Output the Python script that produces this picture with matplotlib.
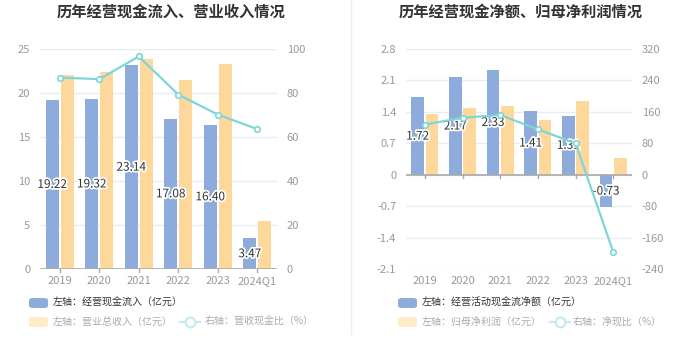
import matplotlib
matplotlib.use("Agg")
import matplotlib.pyplot as plt
import matplotlib.patheffects as pe
from matplotlib.patches import FancyBboxPatch
from matplotlib.lines import Line2D
import numpy as np

plt.rcParams['font.family'] = ['Noto Sans CJK SC', 'DejaVu Sans']

categories = ['2019', '2020', '2021', '2022', '2023', '2024Q1']

# Left chart
cash_inflow = [19.22, 19.32, 23.14, 17.08, 16.40, 3.47]
revenue = [22.0, 22.35, 23.9, 21.5, 23.3, 5.42]
cash_ratio = [87.0, 86.3, 96.6, 79.3, 70.2, 63.6]

# Right chart
net_cash = [1.72, 2.17, 2.33, 1.41, 1.31, -0.73]
net_profit = [1.345, 1.49, 1.53, 1.225, 1.64, 0.375]
net_ratio = [127.5, 145.0, 152.0, 115.5, 80.0, -196.0]

W, H = 700, 359
BLUE = '#8dacdb'
YELLOW = '#fed89b'
CYAN = '#7fd5d8'
GRID = '#e8ebf2'
TICK = '#999999'

fig = plt.figure(figsize=(W / 100, H / 100), dpi=100)


def px_axes(x0, y0, x1, y1):
    return fig.add_axes([x0 / W, 1 - y1 / H, (x1 - x0) / W, (y1 - y0) / H])


def draw(ax, bars1, bars2, line, ylim, yticks, ylim2, yticks2, ytl, ytl2):
    x = np.arange(len(categories))
    w = 0.34
    ax.bar(x - 0.19, bars1, w, color=BLUE, zorder=2)
    ax.bar(x + 0.19, bars2, w, color=YELLOW, zorder=2)
    ax.set_xlim(-0.5, len(categories) - 0.5)
    ax.set_ylim(*ylim)
    ax.set_yticks(yticks)
    ax.set_yticklabels(ytl)
    ax.set_xticks(x)
    ax.set_xticklabels(categories)
    ax.grid(axis='y', color=GRID, linewidth=1, zorder=0)
    for s in ax.spines.values():
        s.set_visible(False)
    ax.axhline(0, color='#aaaaaa', linewidth=1.2, zorder=3)
    ax.tick_params(axis='y', length=0, colors=TICK, labelsize=8, pad=7)
    ax.tick_params(axis='x', length=0, colors=TICK, labelsize=8, pad=5)
    for xi in x:
        ax.plot([xi, xi], [0, -(ylim[1] - ylim[0]) * 0.015], color='#aaaaaa',
                linewidth=1, zorder=3, clip_on=False)
    for xi, v in zip(x, bars1):
        ax.text(xi - 0.19, v / 2, f'{v:.2f}', ha='center', va='center', fontsize=8.5,
                color='#333333', zorder=6,
                path_effects=[pe.withStroke(linewidth=2.5, foreground='white')])
    ax2 = ax.twinx()
    ax2.set_ylim(*ylim2)
    ax2.set_yticks(yticks2)
    ax2.set_yticklabels(ytl2)
    for s in ax2.spines.values():
        s.set_visible(False)
    ax2.tick_params(axis='y', length=0, colors=TICK, labelsize=8, pad=7)
    ax2.plot(x, line, color=CYAN, linewidth=1.6, marker='o', markersize=4,
             markerfacecolor='white', markeredgecolor=CYAN, markeredgewidth=1.2, zorder=5)
    return ax2


ax1 = px_axes(40, 49, 277, 269)
ax1_2 = draw(ax1, cash_inflow, revenue, cash_ratio, (0, 25), [0, 5, 10, 15, 20, 25],
             (0, 100), [0, 20, 40, 60, 80, 100],
             ['0', '5', '10', '15', '20', '25'], ['0', '20', '40', '60', '80', '100'])

ax2 = px_axes(406, 49, 632, 269)
ax2_2 = draw(ax2, net_cash, net_profit, net_ratio, (-2.1, 2.8),
             [-2.1, -1.4, -0.7, 0, 0.7, 1.4, 2.1, 2.8],
             (-240, 320), [-240, -160, -80, 0, 80, 160, 240, 320],
             ['-2.1', '-1.4', '-0.7', '0', '0.7', '1.4', '2.1', '2.8'],
             ['-240', '-160', '-80', '0', '80', '160', '240', '320'])

# titles
fig.text(171 / W, 1 - 12 / H, '历年经营现金流入、营业收入情况', ha='center', va='center',
         fontsize=11, fontweight='bold', color='#333333')
fig.text(521 / W, 1 - 12 / H, '历年经营现金净额、归母净利润情况', ha='center', va='center',
         fontsize=11, fontweight='bold', color='#333333')

# separator
fig.add_artist(Line2D([351 / W, 351 / W], [1 - 334 / H, 1], color='#eeeeee', linewidth=1))


def legend_patch(x, y, color):
    p = FancyBboxPatch(((x) / W, 1 - (y + 5) / H), 19 / W, 10 / H,
                       boxstyle='round,pad=0,rounding_size=0.006',
                       transform=fig.transFigure, facecolor=color, edgecolor='none')
    fig.add_artist(p)


def legend_line(x, y):
    fig.add_artist(Line2D([x / W, (x + 20) / W], [1 - y / H, 1 - y / H], color='#c4ecee',
                          linewidth=1.6))
    fig.add_artist(Line2D([(x + 10) / W], [1 - y / H], color='#c4ecee', marker='o',
                          markersize=7, markerfacecolor='white', markeredgewidth=1.6))


def legend_text(x, y, s, color):
    fig.text(x / W, 1 - y / H, s, ha='left', va='center', fontsize=7.2, color=color)


# left legend
legend_patch(29, 303, BLUE)
legend_text(53, 303, '左轴：经营现金流入（亿元）', '#333333')
legend_patch(29, 322, '#feebc9')
legend_text(53, 322, '左轴：营业总收入（亿元）', '#aaaaaa')
legend_line(180, 322)
legend_text(205, 322, '右轴：营收现金比（%）', '#aaaaaa')

# right legend
legend_patch(398, 303, BLUE)
legend_text(422, 303, '左轴：经营活动现金流净额（亿元）', '#333333')
legend_patch(398, 322, '#feebc9')
legend_text(422, 322, '左轴：归母净利润（亿元）', '#aaaaaa')
legend_line(550, 322)
legend_text(573, 322, '右轴：净现比（%）', '#aaaaaa')

fig.savefig('out.png', dpi=100, facecolor='white')
